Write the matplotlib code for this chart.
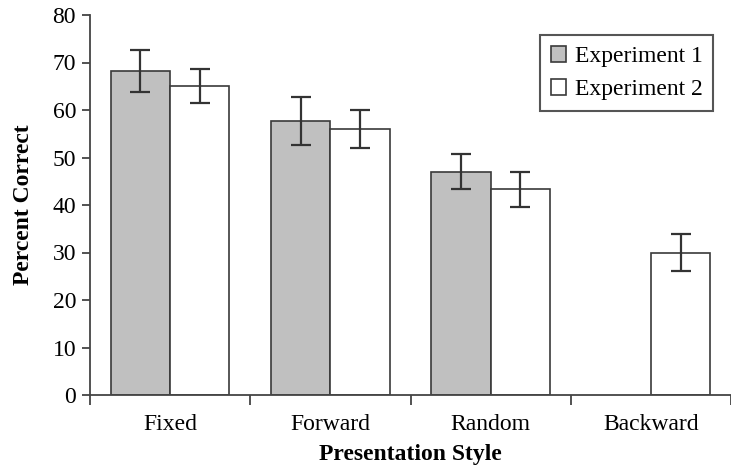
import numpy as np
import matplotlib.pyplot as plt

plt.rcParams['font.family'] = ['Liberation Serif', 'DejaVu Serif']

styles = ['Fixed', 'Forward', 'Random', 'Backward']
exp1 = [68.2, 57.7, 47.0, np.nan]
exp1_err = [4.5, 5.1, 3.7, np.nan]
exp2 = [65.1, 56.0, 43.3, 30.0]
exp2_err = [3.6, 4.05, 3.7, 3.8]

fig = plt.figure(figsize=(7.31, 4.67), dpi=100)
ax = fig.add_axes([90 / 731, 72 / 467, 641 / 731, 380 / 467])

x = np.arange(len(styles))
w = 0.37
edge = '#3a3a3a'
ax.bar(x - w / 2, exp1, w, color='#c0c0c0', edgecolor=edge, linewidth=1.2,
       label='Experiment 1', zorder=2)
ax.bar(x + w / 2, exp2, w, color='white', edgecolor=edge, linewidth=1.2,
       label='Experiment 2', zorder=2)
ax.errorbar(x - w / 2, exp1, yerr=exp1_err, fmt='none', ecolor='#333333',
            elinewidth=1.6, capsize=7, capthick=1.6, zorder=3)
ax.errorbar(x + w / 2, exp2, yerr=exp2_err, fmt='none', ecolor='#333333',
            elinewidth=1.6, capsize=7, capthick=1.6, zorder=3)

ax.set_xlim(-0.5, -0.5 + 641 / 162.5)
ax.set_ylim(0, 80)
ax.set_yticks(range(0, 81, 10))
ax.set_xticks(np.arange(-0.5, 4, 1.0))
ax.set_xticklabels([])
ax.set_xticks(x, minor=True)
ax.set_xticklabels(styles, minor=True)
ax.tick_params(axis='x', which='major', length=7, width=1.3, color='#444444')
ax.tick_params(axis='x', which='minor', length=0, pad=14, labelsize=17)
ax.tick_params(axis='y', length=6, width=1.3, color='#444444', pad=4, labelsize=17)

for s in ['top', 'right']:
    ax.spines[s].set_visible(False)
for s in ['left', 'bottom']:
    ax.spines[s].set_linewidth(1.3)
    ax.spines[s].set_color('#444444')

ax.set_xlabel('Presentation Style', fontsize=17, fontweight='bold', labelpad=6)
ax.set_ylabel('Percent Correct', fontsize=17, fontweight='bold', labelpad=13)

leg = ax.legend(loc='upper right', bbox_to_anchor=(0.972, 0.947), fontsize=17,
                fancybox=False, edgecolor='#555555', framealpha=1,
                handlelength=0.65, handleheight=0.65, handletextpad=0.35,
                borderpad=0.45, labelspacing=0.5, borderaxespad=0)
leg.get_frame().set_linewidth(1.5)

fig.savefig('out.png', dpi=100)
